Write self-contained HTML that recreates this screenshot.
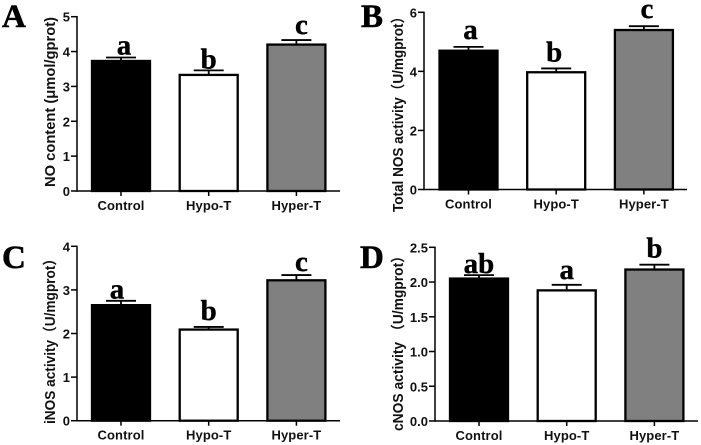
<!DOCTYPE html>
<html lang="en">
<head>
<meta charset="utf-8">
<title>NOS activity bar charts</title>
<style>
html,body{margin:0;padding:0;background:#fff;width:701px;height:445px;overflow:hidden}
svg{display:block;filter:blur(0.35px)}
.tick{font:bold 13px "Liberation Sans",sans-serif;fill:#111}
.cat{font:bold 13px "Liberation Sans",sans-serif;fill:#111;letter-spacing:.1px}
.ytitle{font:bold 14.5px "Liberation Sans","Noto Sans CJK SC",sans-serif;fill:#111}
.sig{font:bold 29px "Liberation Serif",serif;fill:#000;stroke:#000;stroke-width:.4px}
.panel{font:bold 33px "Liberation Serif",serif;fill:#000;stroke:#000;stroke-width:.6px}
</style>
</head>
<body>
<svg id="chart" xmlns="http://www.w3.org/2000/svg" width="701" height="445" viewBox="0 0 701 445"></svg>
<script>
var categories = ['Control', 'Hypo-T', 'Hyper-T'];

var valuesA = [3.73, 3.33, 4.2];
var errorsA = [0.10, 0.13, 0.13];
var lettersA = ['a', 'b', 'c'];
var ticksA = ['0', '1', '2', '3', '4', '5'];
var maxA = 5;
var titleA = 'NO content (μmol/gprot)';

var valuesB = [4.7, 3.97, 5.4];
var errorsB = [0.13, 0.13, 0.13];
var lettersB = ['a', 'b', 'c'];
var ticksB = ['0', '2', '4', '6'];
var maxB = 6;
var titleB = 'Total NOS activity（U/mgprot）';

var valuesC = [2.65, 2.09, 3.22];
var errorsC = [0.10, 0.06, 0.12];
var lettersC = ['a', 'b', 'c'];
var ticksC = ['0', '1', '2', '3', '4'];
var maxC = 4;
var titleC = 'iNOS activity（U/mgprot）';

var valuesD = [2.05, 1.88, 2.18];
var errorsD = [0.05, 0.08, 0.07];
var lettersD = ['ab', 'a', 'b'];
var ticksD = ['0.0', '0.5', '1.0', '1.5', '2.0', '2.5'];
var maxD = 2.5;
var titleD = 'cNOS activity （U/mgprot）';

var svg = document.getElementById('chart');
var NS = 'http://www.w3.org/2000/svg';
var fills = ['#000000', '#ffffff', '#808080'];
var slugs = ['control', 'hypo-t', 'hyper-t'];

function make(tag, attrs, parent, text) {
  var el = document.createElementNS(NS, tag);
  for (var k in attrs) el.setAttribute(k, attrs[k]);
  if (text !== undefined) el.textContent = text;
  parent.appendChild(el);
  return el;
}

function drawPanel(p) {
  var id = p.id.toLowerCase();
  var g = make('g', {}, svg);
  
  

  function yScale(v) { return p.bottom - (v / p.max) * (p.bottom - p.top); }
  function xScale(i) { return p.firstCenter + i * p.step; }

  var label = make('text', {x: p.labelX, y: p.labelY, 'class': 'panel'}, g, p.id);
  
  

  var title = make('text', {
    transform: 'translate(' + p.titleX + ',' + p.titleY + ') rotate(-90)',
    'text-anchor': 'middle', 'class': 'ytitle',
    textLength: p.titleLen, lengthAdjust: 'spacingAndGlyphs'
  }, g, p.title);
  
  

  p.values.forEach(function (v, i) {
    var cx = xScale(i);
    var hw = 29;
    var errTop = yScale(v + p.errors[i]);
    var stem = make('line', {x1: cx, x2: cx, y1: errTop, y2: yScale(v), stroke: '#000', 'stroke-width': 1.8}, g);
    
    
    var cap = make('line', {x1: cx - 15, x2: cx + 15, y1: errTop, y2: errTop, stroke: '#000', 'stroke-width': 1.8}, g);
    
    
    var bar = make('rect', {
      x: cx - hw, y: yScale(v), width: hw * 2, height: p.bottom - yScale(v),
      fill: fills[i], stroke: '#000', 'stroke-width': 2.3
    }, g);
    
    
    var sig = make('text', {x: cx + p.sigShift[i], y: errTop - p.sigGap[i], 'text-anchor': 'middle', 'class': 'sig'}, g, p.letters[i]);
    
    
    var tick = make('line', {x1: cx, x2: cx, y1: p.bottom, y2: p.bottom + 5, stroke: '#000', 'stroke-width': 1.5}, g);
    
    
    var cat = make('text', {x: cx, y: p.bottom + 19, 'text-anchor': 'middle', 'class': 'cat'}, g, categories[i]);
    
    
  });

  p.ticks.forEach(function (t) {
    var y = yScale(parseFloat(t));
    var tl = make('line', {x1: p.axisX - 6, x2: p.axisX, y1: y, y2: y, stroke: '#000', 'stroke-width': 1.5}, g);
    
    
    var tx = make('text', {x: p.axisX - 7, y: y + 5, 'text-anchor': 'end', 'class': 'tick'}, g, t);
    
    
  });

  var yAxis = make('line', {x1: p.axisX, x2: p.axisX, y1: p.top - 0.7, y2: p.bottom + 0.7, stroke: '#000', 'stroke-width': 1.5}, g);
  
  
  var xAxis = make('line', {x1: p.axisX, x2: p.axisEnd, y1: p.bottom, y2: p.bottom, stroke: '#000', 'stroke-width': 1.5}, g);
  
  
}

drawPanel({id: 'A', values: valuesA, errors: errorsA, letters: lettersA, ticks: ticksA, max: maxA, title: titleA,
  axisX: 77, axisEnd: 340, top: 16.7, bottom: 191, firstCenter: 121, step: 87.7,
  labelX: 2, labelY: 27, titleX: 55, titleY: 102, titleLen: 170, sigGap: [3, 2, 6], sigShift: [3, 0, 5]});
drawPanel({id: 'B', values: valuesB, errors: errorsB, letters: lettersB, ticks: ticksB, max: maxB, title: titleB,
  axisX: 424, axisEnd: 687, top: 12.3, bottom: 189.5, firstCenter: 468.5, step: 87.7,
  labelX: 361, labelY: 27, titleX: 403, titleY: 111, titleLen: 202, sigGap: [8, 7, 8], sigShift: [2, -2, 3]});
drawPanel({id: 'C', values: valuesC, errors: errorsC, letters: lettersC, ticks: ticksC, max: maxC, title: titleC,
  axisX: 77, axisEnd: 340, top: 246.3, bottom: 420.7, firstCenter: 121, step: 87.7,
  labelX: 2, labelY: 268, titleX: 55, titleY: 338, titleLen: 172, sigGap: [2.5, 7, 4], sigShift: [-4, 0, 5]});
drawPanel({id: 'D', values: valuesD, errors: errorsD, letters: lettersD, ticks: ticksD, max: maxD, title: titleD,
  axisX: 435, axisEnd: 698, top: 247.3, bottom: 421, firstCenter: 479, step: 87.7,
  labelX: 360, labelY: 268, titleX: 403, titleY: 340, titleLen: 182, sigGap: [2, 6, 7], sigShift: [0, 0, 0]});
</script>
</body>
</html>
